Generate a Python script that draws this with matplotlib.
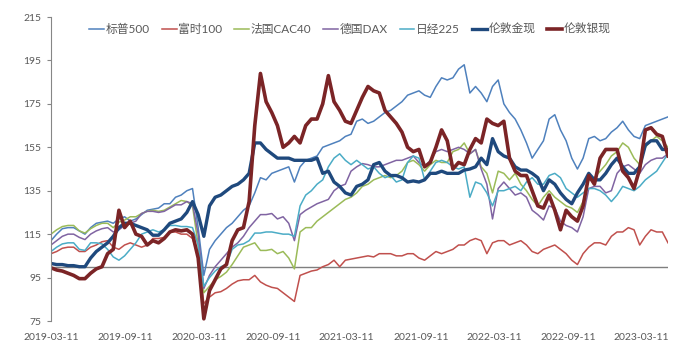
import pandas as pd
import matplotlib.pyplot as plt
import matplotlib.dates as mdates

plt.rcParams['font.family'] = ['Lato', 'Noto Sans CJK SC', 'DejaVu Sans']

# Datas (a cada 14 dias)
datas = pd.date_range('2019-03-11', periods=110, freq='14D')
rotulos_x = ['2019-03-11', '2019-09-11', '2020-03-11', '2020-09-11', '2021-03-11',
             '2021-09-11', '2022-03-11', '2022-09-11', '2023-03-11']

sp500 = [112, 115, 117.5, 118, 118, 116.5, 115, 118, 120, 120.5,
         121, 120, 122, 123, 121, 122, 124, 126, 126.5, 127,
         129, 129, 132, 133, 135, 136, 118, 96, 108, 112,
         115, 118, 120, 123, 126, 128, 134, 141, 140, 143,
         144, 145, 146, 139, 146, 149, 150, 151, 155, 156,
         157, 158, 160, 161, 167, 168, 166, 167, 169, 171,
         172, 174, 176, 179, 180, 181, 179, 178, 183, 187,
         186, 187, 191, 193, 180, 183, 180, 176, 183, 186,
         175, 171, 168, 163, 157, 150, 154, 158, 168, 170,
         163, 158, 150, 145, 150, 159, 160, 158, 159, 162,
         164, 167, 163, 160, 159, 165, 166, 167, 168, 169]

ftse100 = [106, 107, 108.5, 109, 109, 107, 107, 109, 110, 111.5,
           112, 109, 108, 110, 111, 110, 109, 110, 113, 113,
           113.5, 116, 116, 115, 115, 113, 105, 83, 86, 88,
           88.5, 90, 92, 93.5, 94, 94, 96, 93, 91.5, 90.5,
           90, 88, 86, 84, 96, 97, 98, 98.5, 100, 101,
           103, 100, 103, 103.5, 104, 104.5, 105, 104.5, 106, 106,
           106, 105, 105, 106, 106, 104, 103, 105, 107, 106,
           107, 108, 110, 110, 112, 113, 112, 106, 111, 112,
           112, 110, 111, 112, 110, 107, 106, 108, 109, 110,
           108, 106, 103, 101, 106, 109, 111, 111, 110, 114,
           116, 116, 118, 117, 110, 114, 117, 116, 116, 111]

cac40 = [115, 117, 118.5, 119, 119, 116.5, 115.5, 117.5, 119, 120,
         120, 118, 120.5, 121.5, 123, 123, 124.5, 125.5, 126, 125.5,
         126, 127.5, 129, 130.5, 130, 128, 110, 88, 91, 94,
         95.5, 97.5, 101, 105, 109, 110, 111, 107.5, 107.5, 108,
         106, 107, 104, 99, 116, 118, 118, 121, 123, 125,
         127, 129, 131, 132, 134, 137, 138, 140, 141, 142,
         141, 142, 144, 148, 149, 147, 144, 147, 149, 148,
         148, 153, 154, 157, 152, 154, 146, 143, 134, 144,
         143, 140, 143, 138, 135, 131, 128, 132, 135, 132,
         130, 128, 127, 125, 130, 140, 141, 144, 147, 151,
         153, 157, 155, 150, 147, 155, 158, 160, 158, 155]

dax = [110, 112, 114, 115, 115, 113.5, 112.5, 115, 116.5, 117.5,
       118, 116, 117, 119, 120, 121, 124.5, 125.5, 125.5, 125,
       125.5, 127, 128.5, 128.5, 130, 129, 115, 90, 96, 100,
       103, 106, 109, 111, 114, 118, 121, 124, 124, 124.5,
       122, 123, 120, 112, 124, 126, 127.5, 129, 130, 131,
       135, 137, 138, 144, 146, 147.5, 147, 146, 146, 147,
       148, 149, 149, 150, 151, 148, 146, 149, 153, 154,
       153, 154, 155, 154, 152, 154, 145, 138, 122, 136,
       139, 136, 133, 134, 132, 126, 124, 121.5, 128, 127,
       121, 119, 118, 116, 123, 136, 137, 137, 134, 135,
       143, 146, 147, 145, 143, 147, 149, 150, 150, 152]

nikkei225 = [107, 109, 110.5, 111, 111, 108, 107.5, 111, 111, 110.5,
             108, 104.5, 103, 105, 108, 111, 115, 116, 117, 116,
             117, 119, 119, 118.5, 118.5, 118, 110, 91, 95, 98,
             100, 101, 108, 110, 110.5, 112, 115.5, 115.5, 116, 116,
             115.5, 115, 115, 114, 128, 133, 135, 138, 140, 146,
             150, 152, 149, 147, 149, 147, 145, 146, 143, 141,
             142, 139, 140, 148, 151, 150, 140, 144, 148, 149,
             148, 146, 145, 146, 132, 139, 138, 134, 128, 135,
             135, 136, 137, 135, 139, 141, 138, 138, 142, 143,
             141, 136, 134, 132, 134, 136, 136, 135, 133, 130,
             133, 137, 136, 135, 137, 140, 142, 144, 148, 152]

ouro = [101.5, 101, 101, 100.5, 100.5, 100, 100, 104, 107, 109,
        111, 114, 118, 120, 120, 119, 118, 117, 114.5, 114.5,
        117, 120, 121, 122, 125, 130, 124, 114, 128, 132,
        133, 135, 137, 138, 140, 143, 157, 157, 154, 152,
        150, 150, 150, 149, 149, 149, 149, 150, 143, 144,
        139, 137, 134, 133, 137, 138, 140, 147, 148, 144,
        142, 142, 141, 139, 139.5, 139, 140, 143, 143, 144,
        143, 143, 143, 144.5, 145, 146, 150, 147, 159, 153,
        151, 150, 146, 144.5, 144.5, 143, 141, 135, 140, 138,
        134, 131, 129, 134, 138, 143, 140, 140, 143, 147,
        150, 146, 143, 143, 146, 156, 158, 158, 154, 154]

prata = [99.5, 98.5, 98, 97, 96, 94.5, 94.5, 97, 99, 100,
         106, 108, 126, 118, 121, 115, 114, 110, 112, 111,
         113, 116, 117, 116.5, 117, 115, 104, 76, 89, 94,
         99, 101, 112, 117, 118, 130, 165, 189, 176, 171,
         165, 155, 157, 160, 157, 165, 168, 168, 175, 188,
         176, 172, 167, 166, 172, 178, 183, 181, 180, 172,
         169, 166, 162, 155, 153, 154, 146, 148, 155, 163,
         158, 145, 148, 147, 154, 159, 157, 168, 166, 165,
         167, 150, 144, 142, 142, 135, 128, 127, 133, 126,
         117, 126, 123, 121, 128, 142, 138, 150, 154, 154,
         154, 144, 141, 136, 145, 163, 164, 161, 160, 151]

series = [
    ('标普500', sp500, '#4F81BD', 1.1),
    ('富时100', ftse100, '#C0504D', 1.1),
    ('法国CAC40', cac40, '#9BBB59', 1.1),
    ('德国DAX', dax, '#8064A2', 1.1),
    ('日经225', nikkei225, '#4BACC6', 1.1),
    ('伦敦金现', ouro, '#1F497D', 2.4),
    ('伦敦银现', prata, '#7B2426', 2.6),
]

fig = plt.figure(figsize=(7, 3.56), dpi=100)
ax = fig.add_axes([51 / 700, 1 - 321 / 356, 617 / 700, 304 / 356])

ax.axhline(100, color='#7F7F7F', linewidth=1.0, zorder=1)
for nome, valores, cor, lw in series:
    ax.plot(datas, valores, color=cor, linewidth=lw, label=nome, zorder=2)

ax.set_ylim(75, 215)
ax.set_yticks(range(75, 216, 20))
ax.set_xlim(datas[0], datas[-1])
ax.set_xticks(pd.to_datetime(rotulos_x))
ax.xaxis.set_major_formatter(mdates.DateFormatter('%Y-%m-%d'))

for lado in ['top', 'right', 'bottom']:
    ax.spines[lado].set_visible(False)
ax.spines['left'].set_color('#868686')
ax.tick_params(axis='y', direction='out', length=3, color='#868686',
               labelsize=7.5, labelcolor='#595959', pad=4)
ax.tick_params(axis='x', length=0, labelsize=7.5, labelcolor='#595959', pad=9)

fig.legend(loc='center', bbox_to_anchor=(350 / 700, 1 - 29 / 356), ncol=7,
           frameon=False, fontsize=8.5, handlelength=1.25, handletextpad=0.15,
           columnspacing=1.0, labelcolor='#595959')

fig.savefig('out.png', dpi=100)
